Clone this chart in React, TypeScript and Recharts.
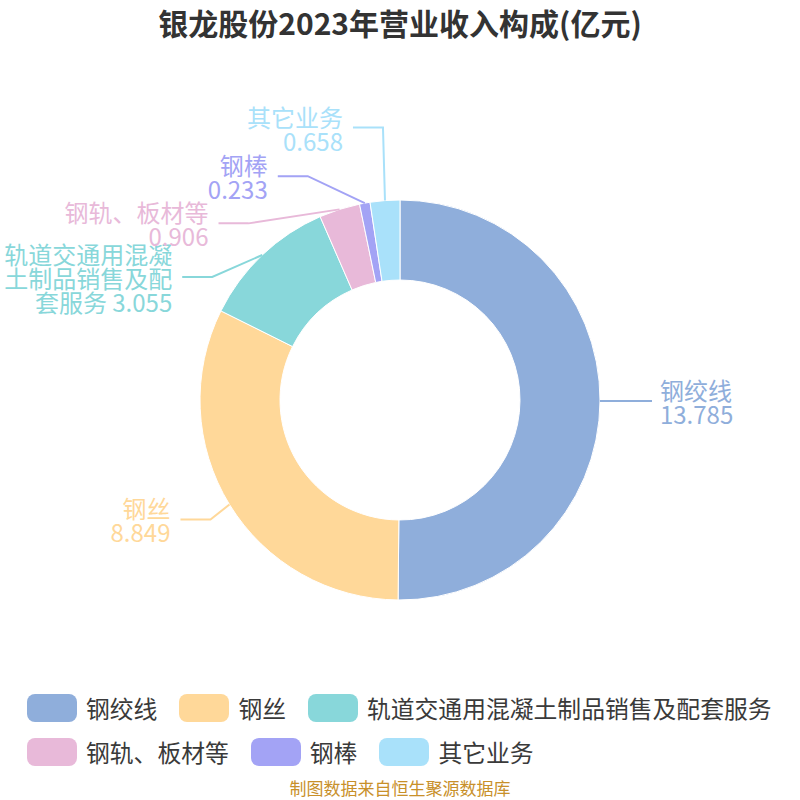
import React from "react";
import { PieChart, Pie, Cell } from "recharts";

const categories = ["钢绞线", "钢丝", "轨道交通用混凝土制品销售及配套服务", "钢轨、板材等", "钢棒", "其它业务"];
const values = [13.785, 8.849, 3.055, 0.906, 0.233, 0.658];
const colors = ["#8FAEDB", "#FFD899", "#88D7DA", "#E8B9D9", "#A3A3F5", "#A9E1FA"];

// label text lines (the long one wraps in the original)
const labelLines: string[][] = [
    ["钢绞线", "13.785"],
    ["钢丝", "8.849"],
    ["轨道交通用混凝", "土制品销售及配", "套服务 3.055"],
    ["钢轨、板材等", "0.906"],
    ["钢棒", "0.233"],
    ["其它业务", "0.658"],
];
// elbow offset from slice edge, and horizontal leg length
const elbow: [number, number, number][] = [
    [0, 0, 52],
    [-19, 15, 30],
    [-50, 22, 30],
    [-91, 14, 30],
    [-57, -27, 30],
    [-2, -73, 30],
];

const data = categories.map((c, i) => ({ name: c, value: values[i] }));
const FONT = '"Noto Sans CJK SC", "Noto Sans", sans-serif';
const RAD = Math.PI / 180;

function renderLabel(props: any) {
    const { cx, cy, midAngle, outerRadius, index } = props;
    const sx = cx + outerRadius * Math.cos(-midAngle * RAD);
    const sy = cy + outerRadius * Math.sin(-midAngle * RAD);
    const [dx, dy, leg] = elbow[index];
    const ex = sx + dx;
    const ey = sy + dy;
    const right = sx > cx;
    const fx = right ? ex + leg : ex - leg;
    const tx = right ? fx + 8 : fx - 10;
    const lines = labelLines[index];
    const lh = 24;
    const y0 = ey - ((lines.length - 1) * lh) / 2;
    const color = colors[index];
    return (
        <g key={"lbl" + index}>
            <polyline
                points={`${sx},${sy} ${ex},${ey} ${fx},${ey}`}
                fill="none"
                stroke={color}
                strokeWidth={2}
            />
            <text
                x={tx}
                y={y0}
                fill={color}
                fontSize={24}
                fontFamily={FONT}
                textAnchor={right ? "start" : "end"}
                dominantBaseline="central"
            >
                {lines.map((l, i) => (
                    <tspan key={i} x={tx} y={y0 + i * lh}>
                        {l}
                    </tspan>
                ))}
            </text>
        </g>
    );
}

export default function App() {
    return (
        <div style={{ position: "absolute", left: 0, top: 0, width: 800, height: 800, background: "#fff", fontFamily: FONT }}>
            <div
                style={{
                    position: "absolute",
                    top: 4,
                    width: 800,
                    textAlign: "center",
                    fontSize: 30,
                    lineHeight: "36px",
                    fontWeight: "bold",
                    color: "#333",
                }}
            >
                银龙股份2023年营业收入构成(亿元)
            </div>
            <PieChart width={800} height={800} margin={{ top: 0, right: 0, bottom: 0, left: 0 }}>
                <Pie
                    data={data}
                    dataKey="value"
                    nameKey="name"
                    cx={400}
                    cy={400}
                    innerRadius={120}
                    outerRadius={200}
                    startAngle={90}
                    endAngle={-270}
                    stroke="#fff"
                    strokeWidth={1}
                    label={renderLabel}
                    labelLine={false}
                    isAnimationActive={false}
                >
                    {data.map((d, i) => (
                        <Cell key={d.name} fill={colors[i]} />
                    ))}
                </Pie>
            </PieChart>
            <div
                style={{
                    position: "absolute",
                    left: 27,
                    top: 694,
                    width: 770,
                    display: "flex",
                    flexWrap: "wrap",
                    rowGap: 16,
                }}
            >
                {categories.map((c, i) => (
                    <div key={c} style={{ display: "flex", alignItems: "center", marginRight: 22, height: 28 }}>
                        <div style={{ width: 50, height: 28, borderRadius: 8, background: colors[i], marginRight: 9 }} />
                        <span style={{ fontSize: 23.8, lineHeight: "28px", color: "#3a3a3a", whiteSpace: "nowrap" }}>{c}</span>
                    </div>
                ))}
            </div>
            <div
                style={{
                    position: "absolute",
                    top: 778,
                    width: 800,
                    textAlign: "center",
                    fontSize: 17,
                    lineHeight: "20px",
                    color: "#C8902A",
                }}
            >
                制图数据来自恒生聚源数据库
            </div>
        </div>
    );
}
